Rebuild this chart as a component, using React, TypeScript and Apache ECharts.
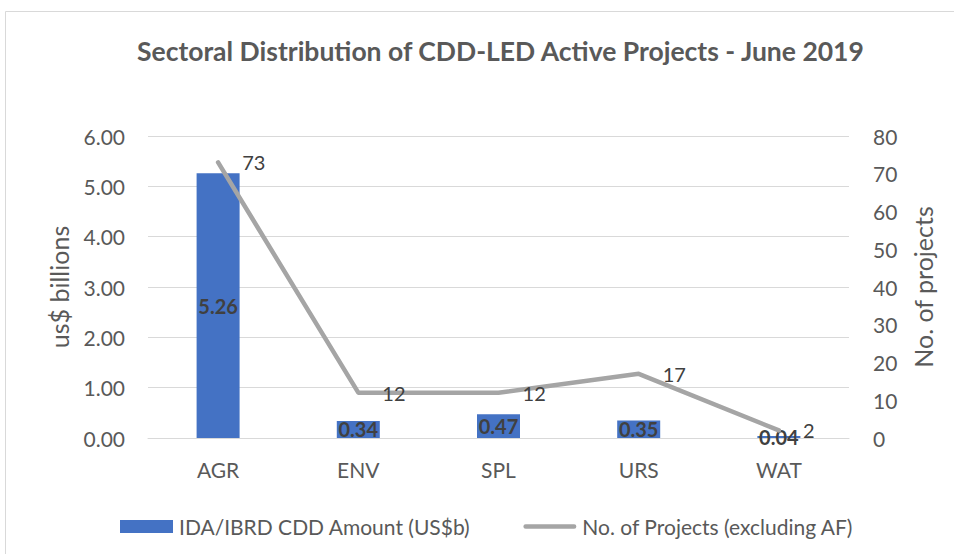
import React, { useEffect, useRef } from "react";
import * as echarts from "echarts";

const categories = ["AGR", "ENV", "SPL", "URS", "WAT"];
const amounts = [5.26, 0.34, 0.47, 0.35, 0.04];
const projects = [73, 12, 12, 17, 2];

const FONT = "Lato, 'Open Sans', sans-serif";
const TXT = "#595959";

export default function App() {
  const ref = useRef<HTMLDivElement>(null);
  useEffect(() => {
    if (!ref.current) return;
    const chart = echarts.init(ref.current, null, { renderer: "svg" });
    chart.setOption({
      animation: false,
      textStyle: { fontFamily: FONT },
      title: {
        text: "Sectoral Distribution of CDD-LED Active Projects - June 2019",
        left: 132,
        top: 32,
        textStyle: { fontFamily: FONT, fontSize: 26.5, fontWeight: "bold", color: TXT },
      },
      graphic: [
        {
          type: "rect",
          shape: { x: 5.5, y: 11.5, width: 960, height: 560 },
          style: { fill: "none", stroke: "#D9D9D9", lineWidth: 1 },
          silent: true,
        },
      ],
      legend: {
        left: 120,
        top: 516,
        padding: 0,
        itemWidth: 53,
        itemHeight: 13,
        itemGap: 53,
        textStyle: { fontFamily: FONT, fontSize: 21, color: TXT, padding: [0, 0, 0, 1] },
        data: [
          { name: "IDA/IBRD CDD Amount (US$b)", icon: "rect" },
          {
            name: "No. of Projects (excluding AF)",
            icon: "path://M2.25,0 L50.75,0 A2.25,2.25 0 0 1 50.75,4.5 L2.25,4.5 A2.25,2.25 0 0 1 2.25,0 Z",
          },
        ],
      },
      grid: { left: 148, right: 105, top: 136, bottom: 116 },
      xAxis: {
        type: "category",
        data: categories,
        axisLine: { lineStyle: { color: "#D9D9D9" } },
        axisTick: { show: false },
        axisLabel: { fontFamily: FONT, fontSize: 21, color: TXT, margin: 21 },
      },
      yAxis: [
        {
          type: "value",
          min: 0,
          max: 6,
          interval: 1,
          name: "us$ billions",
          nameLocation: "middle",
          nameGap: 77,
          nameTextStyle: { fontFamily: FONT, fontSize: 25, color: TXT },
          axisLabel: {
            fontFamily: FONT,
            fontSize: 21,
            color: TXT,
            margin: 23,
            formatter: (v: number) => v.toFixed(2),
          },
          splitLine: { lineStyle: { color: "#D9D9D9", width: 1 } },
          axisLine: { show: false },
          axisTick: { show: false },
        },
        {
          type: "value",
          min: 0,
          max: 80,
          interval: 10,
          name: "No. of projects",
          nameLocation: "middle",
          nameGap: 61,
          nameRotate: 90,
          nameTextStyle: { fontFamily: FONT, fontSize: 25, color: TXT },
          axisLabel: { fontFamily: FONT, fontSize: 21, color: TXT, margin: 24 },
          splitLine: { show: false },
          axisLine: { show: false },
          axisTick: { show: false },
        },
      ],
      series: [
        {
          name: "IDA/IBRD CDD Amount (US$b)",
          type: "bar",
          data: amounts,
          barWidth: 43,
          itemStyle: { color: "#4472C4" },
          label: {
            show: true,
            position: "inside",
            fontFamily: FONT,
            fontSize: 20,
            fontWeight: "bold",
            color: "#404040",
            formatter: (p: any) => Number(p.value).toFixed(2),
          },
        },
        {
          name: "No. of Projects (excluding AF)",
          type: "line",
          yAxisIndex: 1,
          data: projects,
          symbol: "circle",
          symbolSize: 0.1,
          showSymbol: true,
          lineStyle: { color: "#A5A5A5", width: 4.5, cap: "round", join: "round" },
          itemStyle: { color: "#A5A5A5" },
          label: {
            show: true,
            position: "right",
            distance: 24,
            fontFamily: FONT,
            fontSize: 20,
            color: "#404040",
          },
        },
      ],
    });
    return () => chart.dispose();
  }, []);
  return <div ref={ref} style={{ width: 954, height: 554, position: "absolute", left: 0, top: 0 }} />;
}
